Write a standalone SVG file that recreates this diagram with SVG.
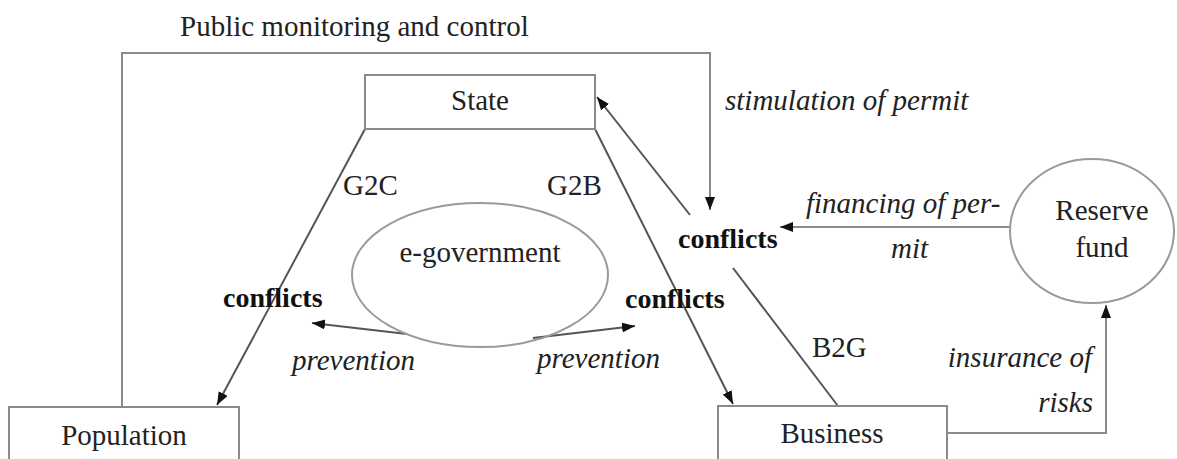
<svg xmlns="http://www.w3.org/2000/svg" width="1177" height="459" viewBox="0 0 1177 459">
<style>
text{font-family:"Liberation Serif","Times New Roman",serif;fill:#222;font-size:29px}
.b{font-weight:bold;font-size:28px;fill:#111}
.i{font-style:italic}
.m{text-anchor:middle}
.e{text-anchor:end}
.box{fill:#fff;stroke:#8a8a8a;stroke-width:2}
.ell{fill:none;stroke:#9a9a9a;stroke-width:2}
.ln{fill:none;stroke:#555;stroke-width:2}
.lg{fill:none;stroke:#8a8a8a;stroke-width:2}
</style>
<defs>
<marker id="ah" markerUnits="userSpaceOnUse" markerWidth="14" markerHeight="12" refX="13" refY="5" orient="auto">
<path d="M0,0 L13,5 L0,10 z" fill="#111"/>
</marker>
</defs>
<rect width="1177" height="459" fill="#fff"/>
<g id="connectors">
<polyline class="lg" points="122,407 122,53 710,53 710,210" marker-end="url(#ah)"/>
<line class="ln" x1="365" y1="129" x2="217" y2="405" marker-end="url(#ah)"/>
<line class="ln" x1="595" y1="129" x2="733" y2="404" marker-end="url(#ah)"/>
<line class="ln" x1="690" y1="215" x2="597" y2="97" marker-end="url(#ah)"/>
<line class="lg" x1="1010" y1="227" x2="780" y2="227" marker-end="url(#ah)"/>
<line class="ln" x1="733" y1="268" x2="838" y2="406"/>
<polyline class="lg" points="947,433 1106,433 1106,305" marker-end="url(#ah)"/>
<line class="ln" x1="407" y1="334" x2="312" y2="323" marker-end="url(#ah)"/>
<line class="ln" x1="533" y1="338" x2="635" y2="326" marker-end="url(#ah)"/>
</g>
<text x="180" y="36">Public monitoring and control</text>
<g id="state">
<rect class="box" x="365" y="75" width="230" height="54"/>
<text class="m" x="480" y="110">State</text>
</g>
<g id="population">
<rect class="box" x="9" y="407" width="230" height="70"/>
<text class="m" x="124" y="445">Population</text>
</g>
<g id="business">
<rect class="box" x="718" y="406" width="229" height="70"/>
<text class="m" x="832" y="443">Business</text>
</g>
<g id="reserve">
<ellipse class="ell" cx="1092" cy="231" rx="82" ry="72"/>
<text class="m" x="1102" y="220">Reserve</text>
<text class="m" x="1102" y="257">fund</text>
</g>
<g id="egov">
<ellipse class="ell" cx="480" cy="275" rx="128" ry="72"/>
<text class="m" x="480" y="262">e-government</text>
</g>
<g id="labels">
<text x="343" y="195">G2C</text>
<text x="547" y="195">G2B</text>
<text class="b" x="223" y="307">conflicts</text>
<text class="b" x="625" y="308">conflicts</text>
<text class="b" x="678" y="248">conflicts</text>
<text class="i" x="292" y="370">prevention</text>
<text class="i" x="537" y="368">prevention</text>
<text class="i" x="725" y="110">stimulation of permit</text>
<text class="i" x="806" y="213">financing of per-</text>
<text class="i" x="891" y="258">mit</text>
<text x="812" y="357">B2G</text>
<text class="i e" x="1092" y="367">insurance of</text>
<text class="i e" x="1093" y="412">risks</text>
</g>
</svg>
